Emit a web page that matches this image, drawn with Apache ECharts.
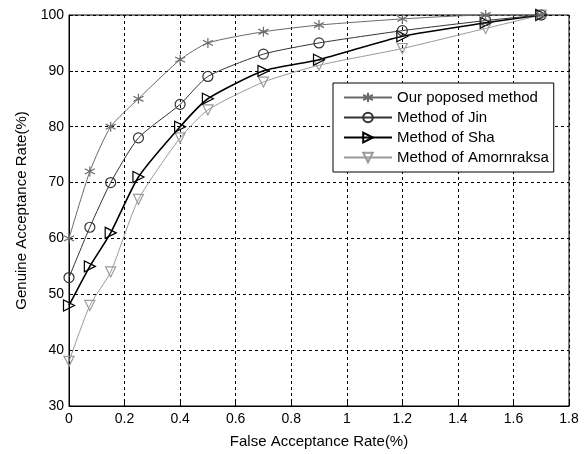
<!DOCTYPE html>
<html>
<head>
<meta charset="utf-8">
<script src="https://cdn.jsdelivr.net/npm/echarts@6/dist/echarts.min.js"></script>
<style>html,body{margin:0;padding:0;background:#fff;}#c{width:586px;height:454px;}</style>
</head>
<body>
<div id="c"></div>
<script>
var farValues = [0, 0.075, 0.15, 0.25, 0.4, 0.5, 0.7, 0.9, 1.2, 1.5, 1.7];
var seriesNames = ['Our poposed method', 'Method of Jin', 'Method of Sha', 'Method of Amornraksa'];
var oursValues = [60, 72, 80, 85, 92, 95, 97, 98.2, 99.3, 100, 100];
var jinValues = [53, 62, 70, 78, 84, 89, 93, 95, 97.2, 99, 100];
var shaValues = [48, 55, 61, 71, 80, 85, 90, 92, 96.2, 98.6, 100];
var amornValues = [38, 48, 54, 67, 78, 83, 88, 91, 94, 97.6, 100];
var xTicks = [0, 0.2, 0.4, 0.6, 0.8, 1, 1.2, 1.4, 1.6, 1.8];
var yTicks = [30, 40, 50, 60, 70, 80, 90, 100];

function pairs(v){ return farValues.map(function(x,i){ return [x, v[i]]; }); }

var styles = [
  {color:'#6a6a6a', width:1, symbol:'path://M0,-5L0,5M-4.5,-2.6L4.5,2.6M-4.5,2.6L4.5,-2.6', size:10, rot:0},
  {color:'#333333', width:1, symbol:'circle', size:10, rot:0},
  {color:'#000000', width:1.6, symbol:'triangle', size:11, rot:-90},
  {color:'#9a9a9a', width:1, symbol:'triangle', size:10, rot:180}
];
var vals = [oursValues, jinValues, shaValues, amornValues];

var series = seriesNames.map(function(n,i){
  var s = styles[i];
  return {
    name:n, type:'line', data:pairs(vals[i]), smooth:0.2,
    symbol:s.symbol, symbolSize:s.size, symbolRotate:s.rot,
    showAllSymbol:true, animation:false,
    lineStyle:{color:s.color, width:s.width},
    itemStyle:{color:'rgba(255,255,255,0)', borderColor:s.color, borderWidth:1.2},
    z: 10 - i
  };
});

var chart = echarts.init(document.getElementById('c'));
chart.setOption({
  backgroundColor:'#fff',
  animation:false,
  textStyle:{fontFamily:'Liberation Sans, Arial, sans-serif'},
  grid:{left:69, right:17, top:15, bottom:43, show:true, borderColor:'#000', borderWidth:1, containLabel:false},
  legend:{
    data:seriesNames, orient:'vertical', left:333, top:83,
    width:220, padding:[7,5,7,10], itemGap:5, itemWidth:48, itemHeight:12,
    backgroundColor:'#fff', borderColor:'#000', borderWidth:1,
    textStyle:{fontSize:15, color:'#000', fontFamily:'Liberation Sans, Arial, sans-serif'}
  },
  xAxis:{
    type:'value', min:xTicks[0], max:xTicks[xTicks.length-1], interval:0.2,
    name:'False Acceptance Rate(%)', nameLocation:'middle', nameGap:28,
    nameTextStyle:{fontSize:15, color:'#000'},
    axisLine:{lineStyle:{color:'#000'}},
    axisTick:{inside:true, length:4, lineStyle:{color:'#000'}},
    axisLabel:{fontSize:14, color:'#000', margin:6},
    splitLine:{show:true, lineStyle:{color:'#000', type:[3,3], width:1}}
  },
  yAxis:{
    type:'value', min:yTicks[0], max:yTicks[yTicks.length-1], interval:10,
    name:'Genuine Acceptance Rate(%)', nameLocation:'middle', nameGap:40,
    nameTextStyle:{fontSize:15, color:'#000'},
    axisLine:{lineStyle:{color:'#000'}},
    axisTick:{inside:true, length:4, lineStyle:{color:'#000'}},
    axisLabel:{fontSize:14, color:'#000', margin:5},
    splitLine:{show:true, lineStyle:{color:'#000', type:[3,3], width:1}}
  },
  series:series
});
</script>
</body>
</html>
